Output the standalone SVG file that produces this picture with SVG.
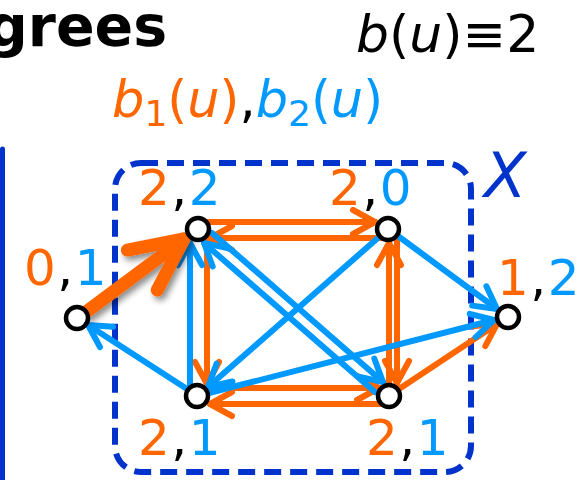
<svg xmlns="http://www.w3.org/2000/svg" width="584" height="480" viewBox="0 0 584 480">
<style>
.t{font-family:"DejaVu Sans","Verdana",sans-serif}
.lab{font-size:50px;letter-spacing:1.5px}
.or{fill:#FF6600}.bl{fill:#0099FF}.bk{fill:#000}
.eo{stroke:#FF6600;stroke-width:6;fill:none;stroke-linecap:round;stroke-linejoin:round}
.eb{stroke:#0099FF;stroke-width:6;fill:none;stroke-linecap:round;stroke-linejoin:round}
.node{fill:#fff;stroke:#000;stroke-width:4.5}
</style>
<defs>
<marker id="ao" markerUnits="userSpaceOnUse" markerWidth="60" markerHeight="60" refX="0" refY="0" viewBox="-30 -30 60 60" orient="auto" overflow="visible">
<path d="M-22,-12 L0,0 L-22,12" fill="none" stroke="#FF6600" stroke-width="6" stroke-linecap="round" stroke-linejoin="round"/>
</marker>
<marker id="ab" markerUnits="userSpaceOnUse" markerWidth="60" markerHeight="60" refX="0" refY="0" viewBox="-30 -30 60 60" orient="auto" overflow="visible">
<path d="M-22,-12 L0,0 L-22,12" fill="none" stroke="#0099FF" stroke-width="6" stroke-linecap="round" stroke-linejoin="round"/>
</marker>
<marker id="at" markerUnits="userSpaceOnUse" markerWidth="140" markerHeight="140" refX="0" refY="0" viewBox="-70 -70 140 140" orient="auto" overflow="visible">
<path d="M-52,-25 L0,0 L-52,25" fill="none" stroke="#FF6600" stroke-width="13" stroke-linecap="round" stroke-linejoin="round"/>
</marker>
<filter id="sh" x="-30%" y="-30%" width="160%" height="160%">
<feDropShadow dx="3" dy="4" stdDeviation="3" flood-color="#000" flood-opacity="0.45"/>
</filter>
</defs>

<text class="t" x="-13" y="46" font-size="57" font-weight="bold" fill="#000">grees</text>
<text class="t" x="356" y="52" font-size="52" fill="#000"><tspan font-style="italic">b</tspan>(<tspan font-style="italic">u</tspan>)≡2</text>
<text class="t" x="112" y="117" font-size="51"><tspan class="or" font-style="italic">b</tspan><tspan class="or" font-size="36" dy="9">1</tspan><tspan class="or" dy="-9">(</tspan><tspan class="or" font-style="italic">u</tspan><tspan class="or">)</tspan><tspan class="bk">,</tspan><tspan class="bl" font-style="italic">b</tspan><tspan class="bl" font-size="36" dy="9">2</tspan><tspan class="bl" dy="-9">(</tspan><tspan class="bl" font-style="italic">u</tspan><tspan class="bl">)</tspan></text>

<line x1="2.5" y1="149" x2="2.5" y2="485" stroke="#0033CC" stroke-width="5" stroke-linecap="round"/>

<g id="X">
<rect x="115" y="163" width="356" height="309" rx="26" fill="none" stroke="#0033CC" stroke-width="6" stroke-dasharray="17 9"/>
<text class="t" x="484" y="197" font-size="62" font-style="italic" fill="#0033CC">X</text>
</g>

<g id="edges">
<line class="eo" x1="205" y1="222" x2="375" y2="222" marker-end="url(#ao)"/>
<line class="eo" x1="384" y1="238" x2="210" y2="238" marker-end="url(#ao)"/>
<line class="eo" x1="207" y1="238" x2="207" y2="384" marker-end="url(#ao)"/>
<line class="eo" x1="389" y1="388" x2="389" y2="243" marker-end="url(#ao)"/>
<line class="eo" x1="397" y1="237" x2="397" y2="383" marker-end="url(#ao)"/>
<line class="eo" x1="207" y1="388" x2="379" y2="388" marker-end="url(#ao)"/>
<line class="eo" x1="384" y1="404" x2="210" y2="404" marker-end="url(#ao)"/>
<line class="eo" x1="399" y1="389" x2="497" y2="324" marker-end="url(#ao)"/>

<line class="eb" x1="187" y1="389" x2="88" y2="325" marker-end="url(#ab)"/>
<line class="eb" x1="190" y1="386" x2="190" y2="243" marker-end="url(#ab)"/>
<line class="eb" x1="212" y1="233" x2="383" y2="382" marker-end="url(#ab)"/>
<line class="eb" x1="375" y1="392" x2="204" y2="243" marker-end="url(#ab)"/>
<line class="eb" x1="379" y1="237" x2="208" y2="387" marker-end="url(#ab)"/>
<line class="eb" x1="398" y1="236" x2="497" y2="309" marker-end="url(#ab)"/>
<line class="eb" x1="209" y1="393" x2="494" y2="320" marker-end="url(#ab)"/>

<g filter="url(#sh)">
<line x1="86" y1="312" x2="184" y2="239" stroke="#FF6600" stroke-width="13" stroke-linecap="round" marker-end="url(#at)"/>
</g>
</g>

<g id="nA"><circle class="node" cx="77" cy="318" r="11"/>
<text class="t lab" x="24" y="285"><tspan class="or">0</tspan><tspan class="bk">,</tspan><tspan class="bl">1</tspan></text></g>
<g id="nB"><circle class="node" cx="198" cy="229" r="11"/>
<text class="t lab" x="138" y="205"><tspan class="or">2</tspan><tspan class="bk">,</tspan><tspan class="bl">2</tspan></text></g>
<g id="nC"><circle class="node" cx="388" cy="229" r="11"/>
<text class="t lab" x="329" y="205"><tspan class="or">2</tspan><tspan class="bk">,</tspan><tspan class="bl">0</tspan></text></g>
<g id="nD"><circle class="node" cx="197" cy="396" r="11"/>
<text class="t lab" x="138" y="455"><tspan class="or">2</tspan><tspan class="bk">,</tspan><tspan class="bl">1</tspan></text></g>
<g id="nE"><circle class="node" cx="389" cy="396" r="11"/>
<text class="t lab" x="366" y="455"><tspan class="or">2</tspan><tspan class="bk">,</tspan><tspan class="bl">1</tspan></text></g>
<g id="nF"><circle class="node" cx="508" cy="317" r="11"/>
<text class="t lab" x="497" y="295"><tspan class="or">1</tspan><tspan class="bk">,</tspan><tspan class="bl">2</tspan></text></g>
</svg>
